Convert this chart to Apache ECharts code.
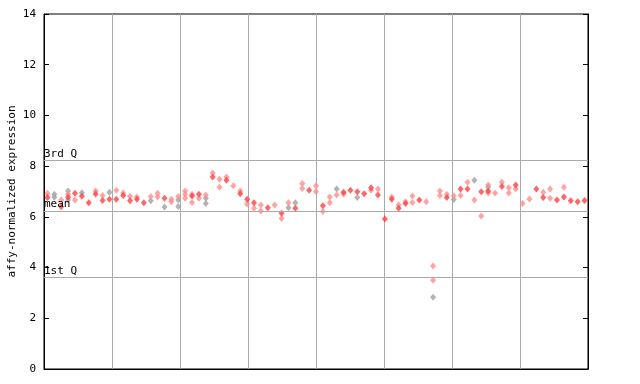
<!DOCTYPE html>
<html><head><meta charset="utf-8">
<script src="https://cdn.jsdelivr.net/npm/echarts@6/dist/echarts.min.js"></script>
<style>html,body{margin:0;padding:0;background:#fff}#c{width:640px;height:384px}</style>
</head><body><div id="c"></div>
<script>
const sampleCount = 79;
const yTicks = [0, 2, 4, 6, 8, 10, 12, 14];
const yTitle = 'affy-normalized expression';
const quantileNames = ['3rd Q', 'mean', '1st Q'];
const quantileValues = [8.23, 6.23, 3.62];
const solidVals = [6.76,null,6.40,6.77,6.93,6.81,6.56,6.90,6.65,6.69,6.69,6.84,6.64,6.69,6.56,null,
  null,6.73,null,null,null,6.82,6.89,null,7.57,null,7.44,null,6.91,6.69,6.56,null,
  6.36,null,6.14,null,6.34,null,7.05,null,6.44,null,null,6.97,7.05,6.99,6.91,7.15,
  6.86,5.92,6.69,6.34,6.53,null,6.66,null,null,null,6.76,null,7.10,7.10,null,6.99,
  7.02,null,7.20,null,7.26,null,null,7.10,6.76,null,6.66,6.78,6.64,6.60,6.65];
const lightVals = [[6.93],[],[6.66],[6.89],[6.66],[],[],[7.02],[6.84],[],[7.05],[6.94],[6.81],[6.78],[],[6.80],
  [6.93,6.78],[],[6.69,6.60],[6.80],[7.02,6.89,6.73],[6.89,6.57],[6.73],[6.86],[7.73],[7.48,7.17],[7.57],[7.23],[7.02],[6.51],[6.34],[6.47,6.23],
  [],[6.47],[5.94],[6.56],[],[7.32,7.12],[],[7.23,7.00],[6.21],[6.78,6.56],[6.86],[6.90],[],[],[],[7.05],
  [7.10],[],[6.78],[6.47],[6.60],[6.82,6.57],[],[6.60],[4.06,3.50],[7.02,6.84],[6.89],[6.83],[6.84],[7.36],[6.66],[6.03],
  [7.26,6.94],[6.94],[7.36],[7.15,6.94],[7.10],[6.53],[6.70],[],[6.97],[7.10,6.73],[],[7.17],[],[],[]];
const greyVals = [[],[6.89,6.77],[],[7.02,6.66],[],[6.95],[],[],[],[6.97],[],[],[],[],[],[6.64],
  [],[6.39],[],[6.66,6.41],[],[],[],[6.73,6.53],[],[],[],[],[],[],[],[],
  [],[],[],[6.36],[6.56],[],[],[],[],[],[7.10],[],[],[6.76],[],[],
  [],[],[],[],[],[],[],[],[2.83],[],[],[6.68],[],[],[7.44],[],
  [7.18],[],[],[],[],[],[],[],[],[],[],[],[],[],[]];

function pts(list){const o=[];list.forEach((vs,i)=>{(Array.isArray(vs)?vs:[vs]).forEach(v=>{if(v!=null)o.push([i+0.5,v]);});});return o;}
const mono = 'DejaVu Sans Mono';
const chart = echarts.init(document.getElementById('c'));
chart.setOption({
  animation:false,
  grid:{left:44,right:52,top:14,bottom:15,containLabel:false,outerBoundsMode:'none',show:true,borderColor:'#000',borderWidth:1},
  xAxis:{type:'value',min:0,max:sampleCount,interval:sampleCount/8,
    axisLine:{show:true,lineStyle:{color:'#000'}},axisTick:{show:false},axisLabel:{show:false},
    splitLine:{show:true,lineStyle:{color:'#aaaaaa',width:1}}},
  yAxis:[{type:'value',min:yTicks[0],max:yTicks[yTicks.length-1],interval:2,
    name:yTitle,nameLocation:'middle',nameGap:26,nameMoveOverlap:false,nameTextStyle:{fontFamily:mono,fontSize:11,color:'#000'},
    axisLine:{show:true,lineStyle:{color:'#000'}},axisTick:{show:true,inside:true,length:5,lineStyle:{color:'#000'}},
    axisLabel:{fontFamily:mono,fontSize:11,color:'#000',margin:8},splitLine:{show:false}},
   {type:'value',position:'right',min:0,max:14,interval:2,
    axisLine:{show:true,lineStyle:{color:'#000'}},axisTick:{show:true,inside:true,length:5,lineStyle:{color:'#000'}},
    axisLabel:{show:false},splitLine:{show:false}}],
  series:[
    {type:'scatter',data:pts(greyVals),symbol:'diamond',symbolSize:[6,7],itemStyle:{color:'#a0a0a0'},z:2,
     markLine:{silent:true,symbol:'none',animation:false,lineStyle:{color:'#aaaaaa',width:1,type:'solid'},
       label:{show:true,position:'insideStartTop',distance:[0,1],fontFamily:mono,fontSize:11,color:'#000',formatter:p=>p.name},
       data:quantileValues.map((v,i)=>({name:quantileNames[i],yAxis:v}))}},
    {type:'scatter',data:pts(lightVals),symbol:'diamond',symbolSize:[6,7],itemStyle:{color:'#ff8c8c'},z:3},
    {type:'scatter',data:pts(solidVals),symbol:'diamond',symbolSize:[6,7],itemStyle:{color:'#ff4040'},z:4}
  ]
});
</script></body></html>
